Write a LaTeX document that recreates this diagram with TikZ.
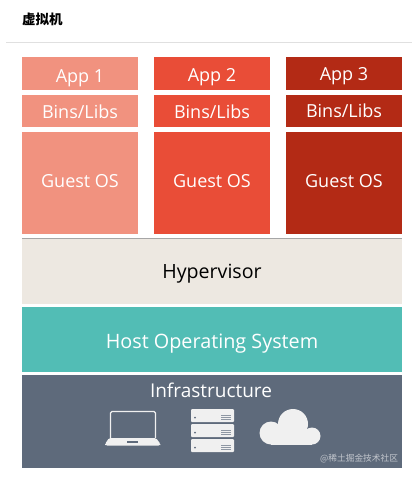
\documentclass[tikz,border=0pt]{standalone}
\usepackage{fontspec}
\setmainfont{Open Sans}
\newfontfamily\cjk{Noto Sans CJK SC}
\usetikzlibrary{positioning}
\definecolor{appa}{HTML}{F1927F}
\definecolor{appb}{HTML}{E94D37}
\definecolor{appc}{HTML}{B32A15}
\definecolor{hyper}{HTML}{EDE8E1}
\definecolor{hostos}{HTML}{52BDB5}
\definecolor{infra}{HTML}{5E6A7B}
\definecolor{icon}{HTML}{F0F0F0}
\begin{document}
\begin{tikzpicture}[x=1pt, y=-1pt,
    every node/.style={inner sep=0pt, outer sep=0pt, font=\fontsize{18}{20}\selectfont, text=white, text depth=0pt},
    small/.style={minimum width=116pt, minimum height=32.5pt, text height=16pt},
    guest/.style={minimum width=116pt, minimum height=102pt, text height=9pt},
    layer/.style={minimum width=380pt, minimum height=65pt}]
        \useasboundingbox[fill=white] (0,0) rectangle (412,477);
        \node[anchor=west, text=black, text depth=2pt, font=\cjk\bfseries\fontsize{13.5}{15}\selectfont] (title) at (22,20) {虚拟机};
        \coordinate (rulea) at (6,42.5);
        \coordinate (ruleb) at (412,42.5);
        \draw[black!12, line width=0.8pt] (rulea) -- (ruleb);

        \node[small, fill=appa, anchor=north west, text height=18pt] (app1) at (22,57) {App 1};
        \node[small, fill=appa, below=5pt of app1] (bins1) {Bins/Libs};
        \node[guest, fill=appa, below=5pt of bins1] (guest1) {Guest OS};
        \node[small, fill=appb, right=16pt of app1, text height=17pt] (app2) {App 2};
        \node[small, fill=appb, below=5pt of app2] (bins2) {Bins/Libs};
        \node[guest, fill=appb, below=5pt of bins2] (guest2) {Guest OS};
        \node[small, fill=appc, right=16pt of app2, text height=14pt] (app3) {App 3};
        \node[small, fill=appc, below=5pt of app3, text height=14pt] (bins3) {Bins/Libs};
        \node[guest, fill=appc, below=5pt of bins3, text height=8pt] (guest3) {Guest OS};

        \node[layer, fill=hyper, text=black, anchor=north west, minimum height=66pt, text height=14pt, font=\fontsize{19.6}{21}\selectfont] (hypervisor) at (22,238) {Hypervisor};
        \node[layer, fill=hostos, below=3pt of hypervisor, text height=17pt, font=\fontsize{19.8}{21}\selectfont] (host) {Host Operating System};
        \node[layer, fill=infra, below=3pt of host, minimum height=93pt] (infrastructure) {};
        \node[font=\fontsize{19}{21}\selectfont] (infralabel) at (211,390) {Infrastructure};
        \draw[black!35, line width=0.6pt] (hypervisor.north west) -- (hypervisor.north east);

        % laptop
        \draw[icon, line width=1.3pt, rounded corners=1.5pt] (110.5,438) -- (110.5,411.5) -- (155.5,411.5) -- (155.5,438);
        \fill[icon, rounded corners=1.5pt] (109,438) -- (156,438) -- (160.5,444) -- (160,445.5) -- (105.5,445.5) -- (105,444) -- cycle;
        \fill[infra] (127,441) rectangle (138,443);
        % server
        \foreach \ytop in {409,424,439} {
            \fill[icon, rounded corners=1pt] (191,\ytop) rectangle (234,\ytop+13);
            \fill[infra] (195,\ytop+8.5) circle (1pt);
            \foreach \yline in {6,8,10}
                \draw[infra!70, line width=0.5pt] (221,\ytop+\yline) -- (231,\ytop+\yline);
        }
        % cloud
        \fill[icon] (293,424) circle (15pt);
        \fill[icon] (271,433) circle (11.5pt);
        \fill[icon] (312,436) circle (8.5pt);
        \fill[icon] (271,430) rectangle (312,444.5);

        \node[text=white!62!infra, font=\cjk\fontsize{8.7}{10}\selectfont, anchor=east] (mark) at (398,458) {@稀土掘金技术社区};
      \end{tikzpicture}
\end{document}
